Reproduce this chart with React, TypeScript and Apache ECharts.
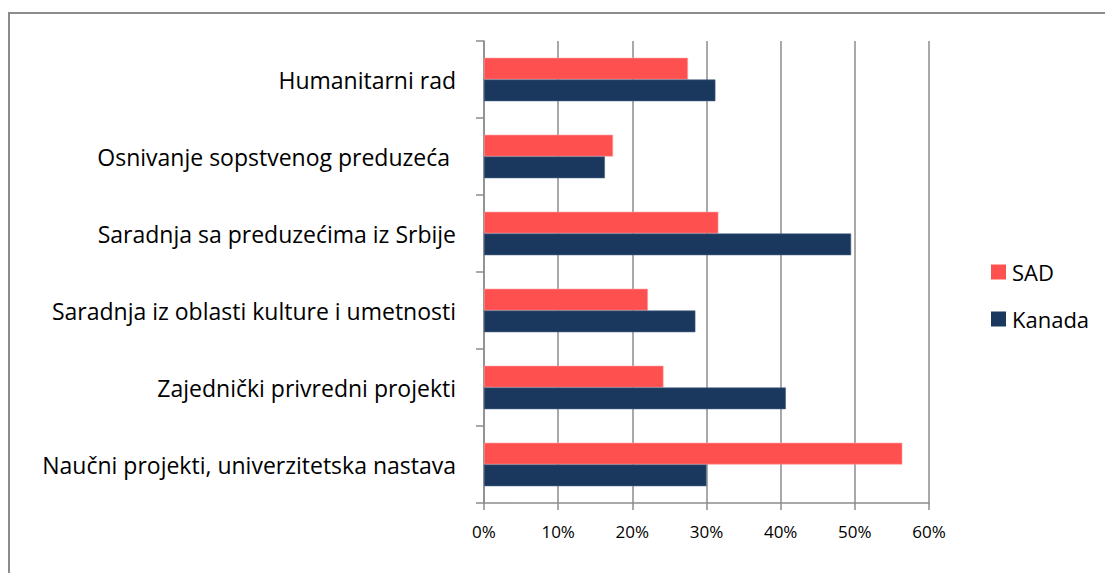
import React, { useEffect, useRef } from "react";
import * as echarts from "echarts";

const categories = [
  "Naučni projekti, univerzitetska nastava",
  "Zajednički privredni projekti",
  "Saradnja iz oblasti kulture i umetnosti",
  "Saradnja sa preduzećima iz Srbije",
  "Osnivanje sopstvenog preduzeća ",
  "Humanitarni rad",
];
const sadValues = [56.4, 24.2, 22.1, 31.6, 17.4, 27.5];
const kanadaValues = [30.0, 40.7, 28.5, 49.5, 16.3, 31.2];
const xTicks = [0, 10, 20, 30, 40, 50, 60];

const FONT = "'Open Sans', 'Noto Sans', sans-serif";

export default function App() {
  const ref = useRef<HTMLDivElement>(null);
  useEffect(() => {
    if (!ref.current) return;
    const chart = echarts.init(ref.current, undefined, { renderer: "svg" });
    chart.setOption({
      animation: false,
      backgroundColor: "#ffffff",
      textStyle: { fontFamily: FONT },
      graphic: [
        {
          type: "rect",
          shape: { x: 9, y: 13, width: 1300, height: 800 },
          style: { fill: "none", stroke: "#8c8c8c", lineWidth: 2 },
          silent: true,
        },
      ],
      grid: { left: 484, right: 176, top: 41, bottom: 70, containLabel: false },
      legend: {
        orient: "vertical",
        left: 986,
        top: 256,
        data: ["SAD", "Kanada"],
        itemWidth: 15,
        itemHeight: 15,
        itemGap: 25,
        icon: "rect",
        itemStyle: { borderWidth: 0 },
        textStyle: { fontSize: 22, color: "#000", fontFamily: FONT, padding: [0, 0, 0, 1] },
      },
      xAxis: {
        type: "value",
        min: xTicks[0],
        max: xTicks[xTicks.length - 1],
        interval: 10,
        axisLine: { show: true, lineStyle: { color: "#8c8c8c", width: 1.5 } },
        axisTick: { show: true, length: 7, lineStyle: { color: "#8c8c8c", width: 1.5 } },
        splitLine: { show: true, lineStyle: { color: "#8c8c8c", width: 1.5 } },
        axisLabel: {
          formatter: "{value}%",
          fontSize: 17,
          color: "#000",
          margin: 20,
          fontFamily: FONT,
        },
      },
      yAxis: {
        type: "category",
        data: categories,
        axisLine: { show: true, lineStyle: { color: "#8c8c8c", width: 1.5 } },
        axisTick: { show: true, length: 8, lineStyle: { color: "#8c8c8c", width: 1.5 } },
        axisLabel: { fontSize: 23, color: "#000", margin: 28, fontFamily: FONT },
      },
      series: [
        {
          name: "SAD",
          type: "bar",
          data: sadValues,
          barGap: "0%",
          barCategoryGap: "43.6%",
          itemStyle: { color: "#ff5050", borderColor: "#ff9a9a", borderWidth: 0.6 },
        },
        {
          name: "Kanada",
          type: "bar",
          data: kanadaValues,
          barGap: "0%",
          barCategoryGap: "43.6%",
          itemStyle: { color: "#1a375e", borderColor: "#4a6384", borderWidth: 0.6 },
        },
      ],
    });
    return () => chart.dispose();
  }, []);
  return (
    <div
      ref={ref}
      style={{ position: "fixed", left: 0, top: 0, width: 1105, height: 573 }}
    />
  );
}
